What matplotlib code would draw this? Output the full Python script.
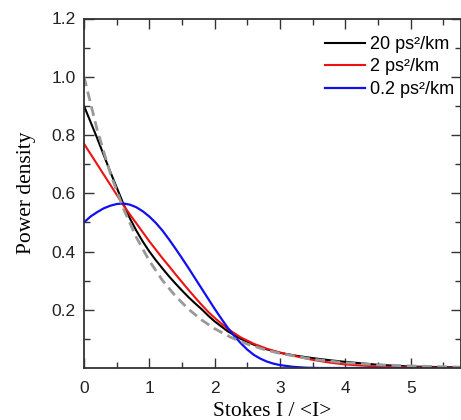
import matplotlib
matplotlib.use("Agg")
import matplotlib.pyplot as plt

# values
x_theory = [0, 0.2, 0.4, 0.6, 0.8, 1.0, 1.2, 1.4, 1.6, 1.8, 2.0, 2.25, 2.5, 2.75, 3.0, 3.5, 4.0, 4.5, 5.0, 5.77]
y_theory = [1.0, 0.819, 0.670, 0.549, 0.449, 0.368, 0.301, 0.247, 0.202, 0.165, 0.135, 0.105, 0.082, 0.064,
            0.05, 0.03, 0.018, 0.011, 0.007, 0.003]

x_curves = [0, 0.2, 0.4, 0.6, 0.7, 0.8, 0.9, 1.0, 1.1, 1.2, 1.3, 1.4, 1.5, 1.6, 1.7, 1.8, 1.9, 2.0,
            2.2, 2.4, 2.6, 2.8, 3.0, 3.25, 3.5, 3.75, 4.0, 4.5, 5.0, 5.77]
y_20 = [0.90, 0.79, 0.675, 0.565, 0.515, 0.472, 0.434, 0.40, 0.37, 0.342, 0.315, 0.29, 0.266, 0.243,
        0.222, 0.202, 0.18, 0.16, 0.126, 0.1, 0.08, 0.064, 0.052, 0.042, 0.034, 0.027, 0.021,
        0.011, 0.005, 0.002]
y_2 = [0.77, 0.70, 0.63, 0.56, 0.528, 0.497, 0.466, 0.435, 0.406, 0.377, 0.35, 0.322, 0.295, 0.268,
       0.242, 0.217, 0.193, 0.172, 0.134, 0.105, 0.083, 0.066, 0.053, 0.04, 0.028, 0.019, 0.012,
       0.005, 0.002, 0.001]

x_blue = [0, 0.1, 0.2, 0.3, 0.4, 0.5, 0.6, 0.7, 0.8, 0.9, 1.0, 1.1, 1.2, 1.3, 1.4, 1.5, 1.6, 1.7, 1.8,
          1.9, 2.0, 2.1, 2.2, 2.3, 2.4, 2.5, 2.6, 2.7, 2.8, 2.9, 3.0, 3.2, 3.4, 3.6, 5.77]
y_02 = [0.50, 0.52, 0.535, 0.548, 0.557, 0.563, 0.565, 0.561, 0.552, 0.538, 0.52, 0.498, 0.472, 0.442,
        0.41, 0.377, 0.343, 0.308, 0.273, 0.238, 0.203, 0.17, 0.138, 0.11, 0.085, 0.063, 0.045, 0.032,
        0.022, 0.015, 0.01, 0.004, 0.001, 0.0, 0.0]

labels = ["20 ps²/km", "2 ps²/km", "0.2 ps²/km"]

fig = plt.figure(figsize=(4.61, 4.20), dpi=100)
ax = fig.add_axes([84 / 461, 52 / 420, 1 - 84 / 461, 349.5 / 420])

ax.plot(x_curves, y_20, color="black", lw=1.5, label=labels[0])
ax.plot(x_curves, y_2, color="#ee1111", lw=1.5, label=labels[1])
ax.plot(x_blue, y_02, color="#1010ee", lw=1.6, label=labels[2])
ax.plot(x_theory, y_theory, color="#999999", lw=2, dashes=(3.5, 2))

ax.set_xlim(0, 5.77)
ax.set_ylim(0, 1.2)
ax.set_xticks([0, 1, 2, 3, 4, 5])
ax.set_xticks([0.5, 1.5, 2.5, 3.5, 4.5, 5.5], minor=True)
ax.set_yticks([0.2, 0.4, 0.6, 0.8, 1.0, 1.2])
ax.set_yticks([0.1, 0.3, 0.5, 0.7, 0.9, 1.1], minor=True)
ax.set_yticklabels(["0.2", "0.4", "0.6", "0.8", "1.0", "1.2"])

for s in ax.spines.values():
    s.set_color("#333333")
    s.set_linewidth(1.3)

ax.tick_params(which="both", direction="in", top=True, right=True, color="#333333", width=1)
ax.tick_params(which="major", length=7, labelsize=12.5, pad=6)
ax.tick_params(axis="x", which="major", pad=9.5)
ax.tick_params(which="minor", length=4)
for lab in ax.get_xticklabels() + ax.get_yticklabels():
    lab.set_family("Liberation Sans")
    lab.set_color("#222222")

ax.set_xlabel("Stokes I / <I>", family="Liberation Serif", fontsize=15.5, labelpad=4)
ax.set_ylabel("Power density", family="Liberation Serif", fontsize=15.5, labelpad=11)

leg = ax.legend(loc="upper left", bbox_to_anchor=(325 / 461, 1 - 36 / 420),
                bbox_transform=fig.transFigure, frameon=False,
                prop={"family": "Liberation Sans", "size": 13},
                handlelength=2.2, handletextpad=0.3, labelspacing=0.3,
                borderpad=0, borderaxespad=0)

fig.savefig("out.png", dpi=100)
